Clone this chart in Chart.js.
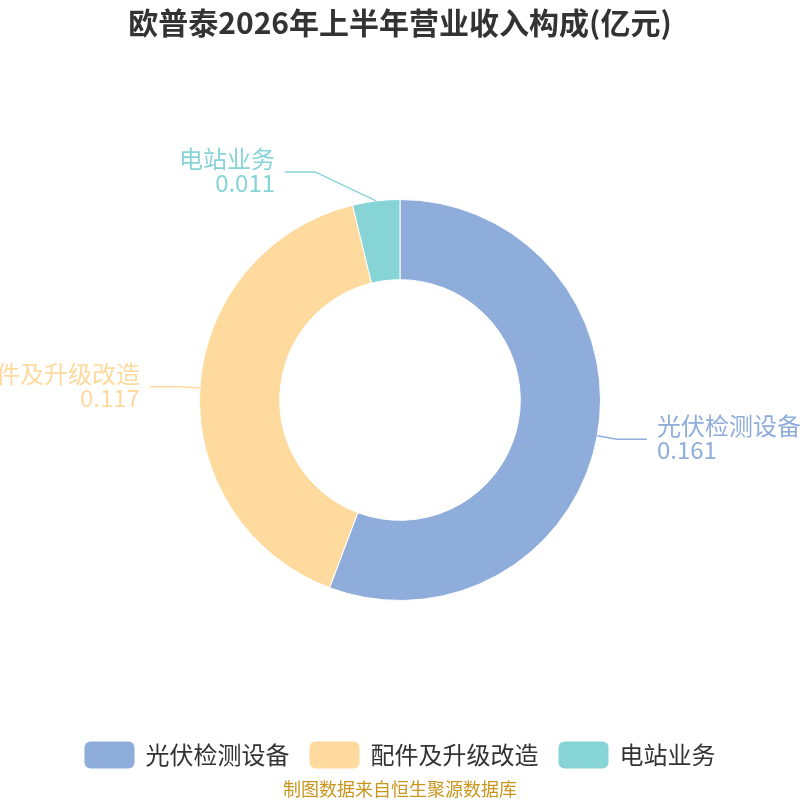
<!DOCTYPE html>
<html>
<head>
<meta charset="utf-8">
<script src="https://cdn.jsdelivr.net/npm/chart.js@4.4.1/dist/chart.umd.min.js"></script>
<style>
  html, body { margin: 0; padding: 0; background: #fff; }
  #wrap { width: 800px; height: 800px; }
</style>
</head>
<body>
<div id="wrap"><canvas id="c" width="800" height="800"></canvas></div>
<script>
// 欧普泰 2026H1 revenue breakdown (亿元)
const titleText = '欧普泰2026年上半年营业收入构成(亿元)';
const sourceText = '制图数据来自恒生聚源数据库';
const categories = ['光伏检测设备', '配件及升级改造', '电站业务'];
const revenue = [0.161, 0.117, 0.011];
const sliceColors = ['#8FADDB', '#FFDA9E', '#87D4D7'];

const FONT = '"Noto Sans CJK SC", "Noto Sans", sans-serif';

// outside labels with leader lines
const sliceLabels = {
    id: 'sliceLabels',
    afterDatasetsDraw(chart) {
        const ctx = chart.ctx;
        const meta = chart.getDatasetMeta(0);
        meta.data.forEach((arc, i) => {
            const mid = (arc.startAngle + arc.endAngle) / 2;
            const r = arc.outerRadius;
            const sx = arc.x + Math.cos(mid) * r;
            const sy = arc.y + Math.sin(mid) * r;
            let bx = arc.x + Math.cos(mid) * (r + 20);
            let by = arc.y + Math.sin(mid) * (r + 20);
            // small slice near the top gets pushed clear of the ring
            if (i === 2) { bx = sx - 61; by = sy - 29; }
            const right = Math.cos(mid) >= 0;
            const ex = bx + (right ? 30 : -30);
            ctx.save();
            ctx.strokeStyle = sliceColors[i];
            ctx.lineWidth = 1.5;
            ctx.beginPath();
            ctx.moveTo(sx, sy);
            ctx.lineTo(bx, by);
            ctx.lineTo(ex, by);
            ctx.stroke();
            ctx.fillStyle = sliceColors[i];
            ctx.font = '24px ' + FONT;
            ctx.textAlign = right ? 'left' : 'right';
            ctx.textBaseline = 'middle';
            const tx = ex + (right ? 10 : -10);
            ctx.fillText(categories[i], tx, by - 13);
            ctx.fillText(String(revenue[i]), tx, by + 11);
            ctx.restore();
        });
    }
};

// title, legend and source note
const frame = {
    id: 'frame',
    afterDraw(chart) {
        const ctx = chart.ctx;
        const W = chart.width;
        ctx.save();
        ctx.fillStyle = '#333';
        ctx.font = 'bold 30px ' + FONT;
        ctx.textAlign = 'center';
        ctx.textBaseline = 'middle';
        ctx.fillText(titleText, W / 2, 23);

        ctx.font = '24px ' + FONT;
        const boxW = 50, boxH = 27, gapText = 11, gapItem = 20;
        const widths = categories.map(c => boxW + gapText + ctx.measureText(c).width);
        const total = widths.reduce((a, b) => a + b, 0) + gapItem * (categories.length - 1);
        let x = (W - total) / 2;
        const y = 755;
        categories.forEach((c, i) => {
            ctx.fillStyle = sliceColors[i];
            ctx.beginPath();
            ctx.roundRect(x, y - boxH / 2, boxW, boxH, 6);
            ctx.fill();
            ctx.fillStyle = '#333';
            ctx.textAlign = 'left';
            ctx.fillText(c, x + boxW + gapText, y);
            x += widths[i] + gapItem;
        });

        ctx.fillStyle = '#C8961E';
        ctx.font = '18px ' + FONT;
        ctx.textAlign = 'center';
        ctx.fillText(sourceText, W / 2, 789);
        ctx.restore();
    }
};

new Chart(document.getElementById('c'), {
    type: 'doughnut',
    data: {
        labels: categories,
        datasets: [{
            data: revenue,
            backgroundColor: sliceColors,
            borderColor: '#fff',
            borderWidth: 1,
            hoverOffset: 0
        }]
    },
    options: {
        responsive: false,
        animation: false,
        events: [],
        cutout: '60%',
        layout: { padding: { top: 199, bottom: 199, left: 199, right: 199 } },
        plugins: {
            legend: { display: false },
            title: { display: false },
            tooltip: { enabled: false }
        }
    },
    plugins: [sliceLabels, frame]
});
</script>
</body>
</html>
